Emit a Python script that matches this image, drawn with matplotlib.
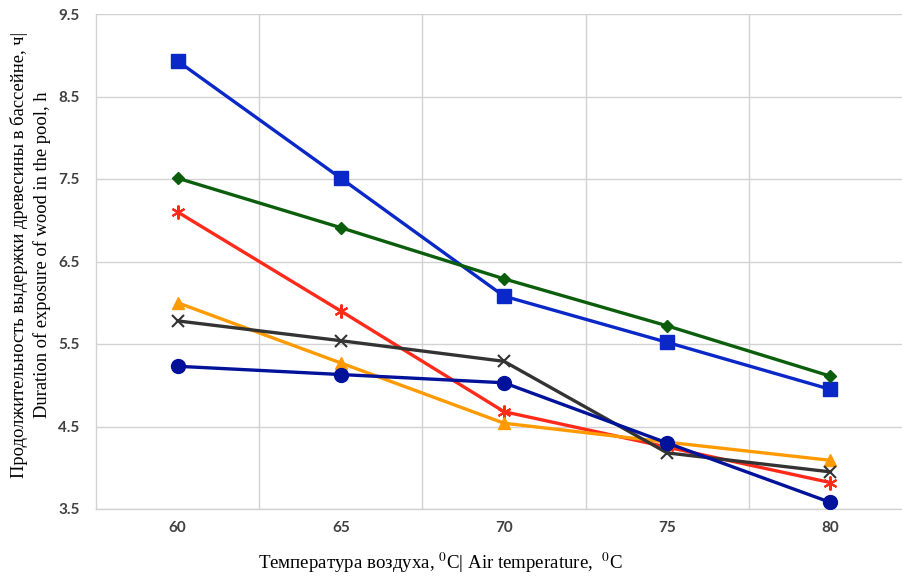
import matplotlib
matplotlib.use("Agg")
import matplotlib.pyplot as plt

temps = [60, 65, 70, 75, 80]
blue_sq = [8.93, 7.51, 6.08, 5.52, 4.95]
green_dm = [7.51, 6.91, 6.29, 5.72, 5.11]
red_star = [7.10, 5.90, 4.68, 4.25, 3.82]
orange_tri = [6.00, 5.27, 4.54, 4.31, 4.09]
black_x = [5.78, 5.54, 5.29, 4.18, 3.95]
navy_circ = [5.23, 5.13, 5.03, 4.30, 3.58]
y_ticks = [3.5, 4.5, 5.5, 6.5, 7.5, 8.5, 9.5]

plt.rcParams['mathtext.fontset'] = 'stix'

fig = plt.figure(figsize=(9.02, 5.76), dpi=100)
W, H = 902, 576
ax = fig.add_axes([96 / W, 1 - 509 / H, 816 / W, (509 - 14) / H])

ax.plot(temps, blue_sq, color='#0A28C8', lw=2.4, marker='s', ms=10, zorder=3)
ax.plot(temps, green_dm, color='#0B5E0B', lw=2.4, marker='D', ms=6, zorder=3)
ax.plot(temps, red_star, color='#FF2A1A', lw=2.4, marker=(6, 2, 0), ms=10, mew=1.5, zorder=3)
ax.plot(temps, orange_tri, color='#FF9A00', lw=2.4, marker='^', ms=9, zorder=3)
ax.plot(temps, black_x, color='#333333', lw=2.4, marker='x', ms=9, mew=1.5, zorder=3)
ax.plot(temps, navy_circ, color='#00129A', lw=2.4, marker='o', ms=10, zorder=3)

ax.set_xlim(57.5, 82.5)
ax.set_ylim(3.5, 9.5)
ax.set_xticks(temps)
ax.set_xticks([62.5, 67.5, 72.5, 77.5], minor=True)
ax.set_yticks(y_ticks)
ax.set_yticklabels([f"{v:.1f}" for v in y_ticks])
ax.grid(True, which='major', axis='y', color='#D2D2D2', lw=1)
ax.grid(True, which='minor', axis='x', color='#D2D2D2', lw=1)
ax.tick_params(which='both', length=0)
ax.tick_params(axis='y', pad=12, labelsize=11, labelcolor='#404040')
ax.tick_params(axis='x', pad=9, labelsize=11, labelcolor='#404040')
for lab in ax.get_xticklabels() + ax.get_yticklabels():
    lab.set_fontfamily('Lato')
    lab.set_fontweight('bold')
for s in ['top', 'right']:
    ax.spines[s].set_visible(False)
for s in ['left', 'bottom']:
    ax.spines[s].set_color('#D2D2D2')
    ax.spines[s].set_linewidth(1)

fig.text(440 / W, 1 - 563 / H,
         "Температура воздуха, $^{0}$C| Air temperature,  $^{0}$C",
         ha='center', va='center', fontsize=13.6, family='Liberation Serif')
fig.text(19 / W, 1 - 255 / H,
         "Продолжительность выдержки древесины в бассейне, ч|",
         ha='center', va='center', rotation=90, fontsize=13.3, family='Liberation Serif')
fig.text(42 / W, 1 - 255 / H,
         "Duration of exposure of wood in the pool, h",
         ha='center', va='center', rotation=90, fontsize=13.3, family='Liberation Serif')

fig.savefig("out.png", dpi=100)
